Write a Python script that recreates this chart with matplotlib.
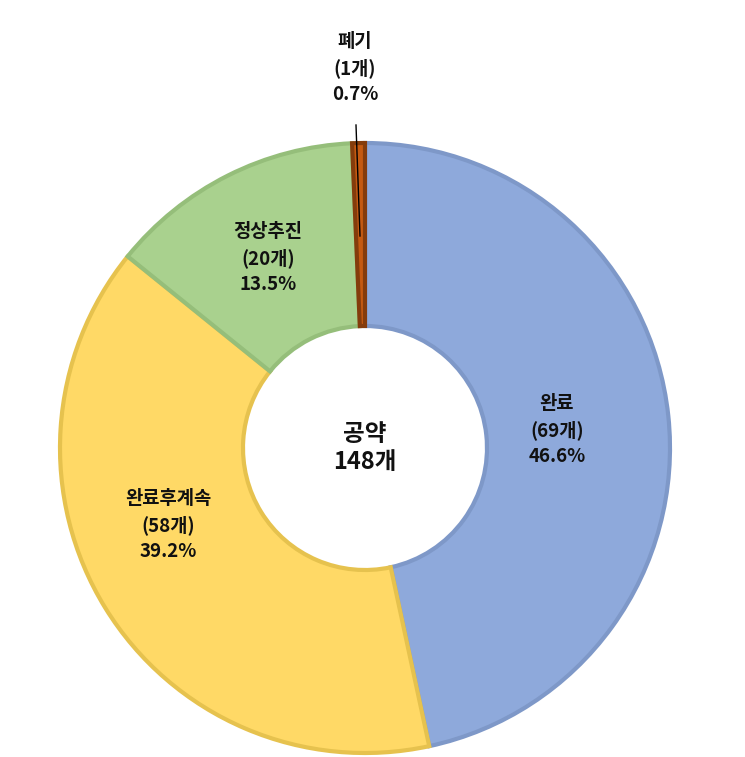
import matplotlib
matplotlib.use("Agg")
import matplotlib.pyplot as plt

plt.rcParams["font.family"] = ["Noto Sans CJK KR", "DejaVu Sans"]

names = ["완료", "완료후계속", "정상추진", "폐기"]
counts = [69, 58, 20, 1]
pcts = ["46.6%", "39.2%", "13.5%", "0.7%"]
colors = ["#8EA9DB", "#FFD966", "#A9D18E", "#C55A11"]
edges = ["#7E98C8", "#E6C24E", "#95BE7A", "#843C0C"]
label_pos = [(557, 430), (168, 525), (268, 258), (355, 68)]

fig = plt.figure(figsize=(7.45, 7.57), dpi=100)
ax = fig.add_axes([0, 0, 1, 1])

cx, cy, r = 365, 448, 305
# y axis is flipped below, so start at -90 (visual top) and go counterclockwise in data = clockwise on screen
wedges, _ = ax.pie(counts, colors=colors, startangle=-90, counterclock=True,
                   center=(cx, cy), radius=r, frame=True,
                   wedgeprops=dict(width=183, linewidth=3))
for w, e in zip(wedges, edges):
    w.set_edgecolor(e)
ax.set_xlim(0, 745)
ax.set_ylim(757, 0)
ax.axis("off")

for n, c, p, (x, y) in zip(names, counts, pcts, label_pos):
    ax.text(x, y, f"{n}\n({c}개)\n{p}", ha="center", va="center",
            fontsize=13.5, fontweight="bold", linespacing=1.45, color="#111111")

ax.plot([356, 360], [125, 236], color="black", lw=1)
ax.text(cx, cy, "공약\n148개", ha="center", va="center", fontsize=17,
        fontweight="bold", linespacing=1.2, color="#111111")

fig.savefig("out.png", dpi=100, facecolor="white")
